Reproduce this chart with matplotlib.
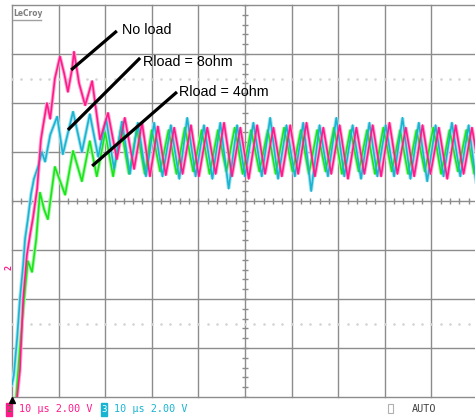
import matplotlib.pyplot as plt
from matplotlib.patches import Rectangle

# tiempos en us (10 us/div), tensiones en V (2 V/div)
t_noload = [1.1, 1.7, 2.4, 3.2, 3.9, 4.5, 5.4, 6.2, 6.7, 7.5, 8.2, 9.2, 10.3, 11.2, 12.0, 12.9, 13.3, 14.4,
            15.7, 17.2, 18.9, 20.6, 22.5, 24.2, 26.2, 27.9, 29.6, 31.3, 33.0,
            34.8, 36.6, 38.4, 40.1, 41.9, 43.7, 45.5, 47.2, 49.0, 50.8,
            52.6, 54.3, 56.1, 57.9, 59.7, 61.4, 63.2, 65.0, 66.8, 68.5,
            70.3, 72.1, 73.9, 75.6, 77.4, 79.2, 81.0, 82.7, 84.5, 86.3,
            88.1, 89.8, 91.6, 93.4, 95.2, 96.9, 98.7, 100.5]
v_noload = [-8.0, -6.9, -4.0, -2.2, -1.35, -0.7, 0.5, 2.5, 3.1, 4.0, 3.35, 5.0, 5.9, 5.2, 4.45, 5.4, 6.1, 4.8,
            3.9, 4.9, 2.5, 3.6, 1.7, 3.4, 1.3, 3.2, 1.0, 3.05, 1.05,
            3.0, 1.1, 3.1, 1.0, 3.0, 1.1, 3.2, 1.0, 3.0, 0.9,
            3.1, 1.1, 3.0, 1.0, 3.1, 1.1, 3.2, 1.0, 3.0, 1.1,
            3.1, 0.9, 3.0, 1.1, 3.1, 1.0, 3.2, 1.1, 3.0, 1.0,
            3.1, 1.1, 3.0, 0.9, 3.1, 1.1, 3.0, 1.0]

t_8ohm = [0.0, 0.4, 1.1, 1.7, 2.4, 2.8, 3.4, 4.1, 4.7, 5.6, 6.4, 7.1, 8.2, 9.7, 10.9, 13.1, 15.0, 16.7,
          18.5, 20.2, 21.9, 23.6, 25.3, 27.0, 28.75,
          30.5, 32.3, 34.1, 35.9, 37.6, 39.4, 41.2, 43.0, 44.7, 46.5,
          48.3, 50.0, 51.8, 53.6, 55.4, 57.1, 58.9, 60.7, 62.5, 64.2,
          66.0, 67.8, 69.6, 71.3, 73.1, 74.9, 76.7, 78.4, 80.2, 82.0,
          83.8, 85.5, 87.3, 89.1, 90.9, 92.6, 94.4, 96.2, 98.0, 99.7, 101.5]
v_8ohm = [-7.5, -7.1, -5.6, -4.0, -2.6, -1.55, -0.75, 0.3, 0.9, 1.4, 2.0, 1.6, 2.7, 3.45, 1.9, 3.65, 2.0, 3.55,
          1.8, 3.35, 1.3, 3.25, 1.1, 3.2, 1.0,
          3.2, 1.0, 3.1, 0.9, 3.4, 1.0, 3.1, 0.9, 3.2, 0.5,
          3.1, 1.0, 3.2, 1.0, 3.4, 0.9, 3.1, 1.0, 3.2, 0.4,
          3.1, 1.0, 3.4, 1.0, 3.1, 0.9, 3.2, 1.0, 3.1, 1.0,
          3.4, 0.9, 3.2, 0.8, 3.1, 1.0, 3.2, 1.0, 3.1, 0.6, 3.2]

t_4ohm = [0.9, 1.7, 2.6, 3.4, 4.3, 5.2, 6.0, 6.9, 7.7, 9.2, 11.4, 13.1, 15.0, 16.7, 18.2, 20.0, 21.7, 23.4,
          25.1, 26.8, 28.5,
          30.0, 31.8, 33.6, 35.3, 37.1, 38.9, 40.7, 42.4, 44.2, 46.0,
          47.8, 49.5, 51.3, 53.1, 54.9, 56.6, 58.4, 60.2, 62.0, 63.7,
          65.5, 67.3, 69.1, 70.8, 72.6, 74.4, 76.2, 77.9, 79.7, 81.5,
          83.3, 85.0, 86.8, 88.6, 90.4, 92.1, 93.9, 95.7, 97.5, 99.2, 101.0]
v_4ohm = [-8.0, -6.0, -4.0, -2.45, -2.9, -1.55, 0.35, -0.35, -0.75, 1.4, 0.25, 2.05, 0.8, 2.45, 1.0, 2.8, 1.0, 3.0,
          1.1, 2.95, 1.1,
          2.9, 1.2, 2.9, 1.1, 3.0, 1.2, 2.9, 1.1, 2.9, 1.2,
          3.0, 1.1, 2.9, 1.2, 2.9, 1.1, 3.0, 1.2, 2.9, 1.1,
          2.9, 1.2, 3.0, 1.1, 2.9, 1.2, 2.9, 1.1, 3.0, 1.2,
          2.9, 1.1, 2.9, 1.2, 3.0, 1.1, 2.9, 1.2, 2.9, 1.1, 3.0]

etiquetas = ["No load", "Rload = 8ohm", "Rload = 4ohm"]

ROSA = "#ff1a8c"
CIAN = "#19b4d2"
VERDE = "#19e619"
GRIS = "#8c8c8c"

W, H = 475, 418
fig = plt.figure(figsize=(W / 100, H / 100), dpi=100)
ax = fig.add_axes([12 / W, 21 / H, 463 / W, 392 / H])
ax.set_xlim(0, 463 / 4.66)
ax.set_ylim(-8, 8)
ax.axis("off")

# reticula del osciloscopio
for x in range(0, 110, 10):
    ax.axvline(x, color=GRIS, lw=1, clip_on=False, zorder=1)
for y in range(-8, 10, 2):
    ax.axhline(y, color=GRIS, lw=1, clip_on=False, zorder=1)

# marcas en los ejes centrales
marcas_x = [i * 2 for i in range(50)]
marcas_y = [-8 + i * 0.4 for i in range(41)]
ax.plot(marcas_x, [0] * len(marcas_x), ls="none", marker="|", ms=5, mew=1, color=GRIS, zorder=1)
ax.plot([50] * len(marcas_y), marcas_y, ls="none", marker="_", ms=5, mew=1, color=GRIS, zorder=1)
for y in (5, -5):
    ax.plot(marcas_x, [y] * len(marcas_x), ls="none", marker="s", ms=0.8, color="#d4d4d4", zorder=1)

# trazas (persistencia clara detras)
for t, v, c, cl in [(t_4ohm, v_4ohm, VERDE, "#a6f5a6"),
                    (t_8ohm, v_8ohm, CIAN, "#a6e2ee"),
                    (t_noload, v_noload, ROSA, "#ffa6cf")]:
    ax.plot(t, v, color=cl, lw=2.6, zorder=2, solid_joinstyle="miter")
    ax.plot(t, v, color=c, lw=1.2, zorder=3)

# flechas con los textos
flechas = [((12.7, 5.35), (22.5, 6.94), (23.6, 6.98)),
           ((12.0, 2.9), (27.5, 5.84), (28.1, 5.67)),
           ((17.2, 1.43), (35.4, 4.45), (35.8, 4.45))]
for (p0, p1, pt), txt in zip(flechas, etiquetas):
    ax.plot([p0[0], p1[0]], [p0[1], p1[1]], color="black", lw=2.3, zorder=5, solid_capstyle="butt")
    ax.text(pt[0], pt[1], txt, fontsize=10.3, family="Liberation Sans", va="center", ha="left", zorder=6)

# logo
fig.text(13 / W, 1 - 14 / H, "LeCroy", fontsize=6, color="#808080", va="center", ha="left",
         family="DejaVu Sans", fontweight="bold", fontstretch="condensed")
fig.add_artist(plt.Line2D([13 / W, 41 / W], [1 - 20 / H, 1 - 20 / H], color="#a0a0a0", lw=1))

# marcador de canal a la izquierda
fig.text(9 / W, 1 - 268 / H, "2", fontsize=6, color=ROSA, rotation=90, va="center", ha="center",
         family="DejaVu Sans Mono", fontweight="bold")

# marcador de disparo
fig.add_artist(plt.Line2D([12 / W], [1 - 400 / H], marker="^", ms=4, color="black"))

# barra de estado inferior
yb = 1 - 409 / H
fig.add_artist(Rectangle((6 / W, 1 - 416 / H), 6 / W, 13 / H, color=ROSA))
fig.text(9 / W, yb, "2", fontsize=6.5, color="#2a8a2a", va="center", ha="center", family="DejaVu Sans Mono")
fig.text(19 / W, yb, "10 µs 2.00 V", fontsize=7.3, color=ROSA, va="center", ha="left", family="DejaVu Sans Mono")
fig.add_artist(Rectangle((101 / W, 1 - 416 / H), 6 / W, 13 / H, color=CIAN))
fig.text(104 / W, yb, "3", fontsize=6.5, color="white", va="center", ha="center", family="DejaVu Sans Mono")
fig.text(114 / W, yb, "10 µs 2.00 V", fontsize=7.3, color=CIAN, va="center", ha="left", family="DejaVu Sans Mono")
fig.add_artist(Rectangle((388 / W, 1 - 413 / H), 5 / W, 9 / H, fill=False, ec="#b0b0b0", lw=0.8))
fig.text(412 / W, yb, "AUTO", fontsize=7.3, color="#404040", va="center", ha="left", family="DejaVu Sans Mono")

fig.savefig("out.png", dpi=100, facecolor="white")
